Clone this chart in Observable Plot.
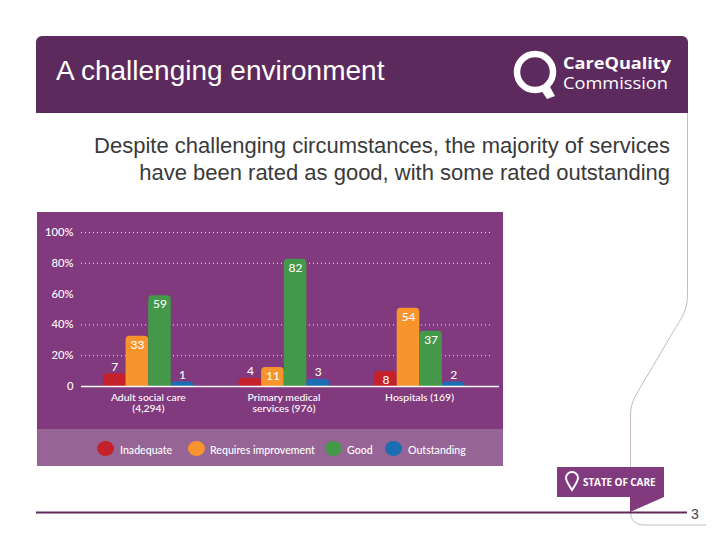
<!DOCTYPE html>
<html><head><meta charset="utf-8">
<script src="https://cdn.jsdelivr.net/npm/d3@7"></script>
<script src="https://cdn.jsdelivr.net/npm/@observablehq/plot@0.6"></script>
<style>
html,body{margin:0;padding:0;background:#fff;overflow:hidden}
#page{position:relative;width:720px;height:540px;overflow:hidden;font-family:"Liberation Sans",Arial,sans-serif}
#page>*{position:absolute}
#hdr{left:36px;top:36px;width:652px;height:77px;background:#5d2a5e;border-radius:6px 6px 0 0}
#title{left:56px;top:54px;color:#fff;font-size:28px;line-height:34px;white-space:nowrap}
#sub{right:50px;top:132px;width:620px;text-align:right;color:#3a3a3a;font-size:22px;line-height:27px;white-space:nowrap}
#panel{left:37px;top:212px;width:466px;height:217px;background:#823a7e}
#legend{left:37px;top:429px;width:466px;height:37px;background:#976496}
#plot{left:37px;top:212px}
.lg{position:absolute;top:0;color:#fff;font:500 10.6px/42px "Lato",sans-serif;white-space:nowrap}
.sw{position:absolute;top:12px;width:17px;height:15px;border-radius:50%}
#soc{left:557px;top:467px;width:107px;height:30px;background:#823a7e}
#soct{left:583px;top:467px;color:#fff;font:700 10px/30px "Open Sans",sans-serif;white-space:nowrap;letter-spacing:-.1px}
#pg{left:691px;top:505px;color:#444;font-size:14px;line-height:18px}
</style></head><body>
<div id="page">
<svg style="left:0;top:0" width="720" height="540">
<path d="M687.5 113V295C687.5 312 680 320 673 332L640 388C634 398 630.5 404 630.5 416V512C630.5 520 635 525 645 525H706" fill="none" stroke="#c9b9c9" stroke-width="1"/>
</svg>
<div id="hdr"></div>
<div id="title">A challenging environment</div>
<svg style="left:510px;top:45px" width="170" height="62">
<circle cx="25" cy="27" r="18" fill="none" stroke="#fff" stroke-width="6.5"/>
<path d="M29 42L37 54L45 51L39 40Z" fill="#fff"/>
<text x="53" y="24" fill="#fff" font-family="Open Sans" font-weight="700" font-size="16" textLength="108" lengthAdjust="spacingAndGlyphs">CareQuality</text>
<text x="53" y="44" fill="#fff" font-family="Open Sans" font-weight="400" font-size="16" textLength="105" lengthAdjust="spacingAndGlyphs">Commission</text>
</svg>
<div id="sub">Despite challenging circumstances, the majority of services<br>have been rated as good, with some rated outstanding</div>
<div id="panel"></div>
<div id="legend"></div>
<div id="plot"></div>
<div id="soc"></div>
<svg style="left:557px;top:467px" width="110" height="46">
<path d="M73 30H107L73 45Z" fill="#823a7e"/>
<path d="M15 23C11 17 9 14 9 11A6 6 0 0 1 21 11C21 14 19 17 15 23Z" fill="none" stroke="#fff" stroke-width="2"/>
</svg>
<div id="soct">STATE OF CARE</div>
<svg style="left:0;top:0;pointer-events:none" width="720" height="540"><path d="M36 512.5H687" stroke="#5d2a5e" stroke-width="2"/></svg>
<div id="pg">3</div>
</div>
<script>
const groups = ["Adult social care\n(4,294)", "Primary medical\nservices (976)", "Hospitals (169)"];
const ratings = ["Inadequate", "Requires improvement", "Good", "Outstanding"];
const colors = ["#c4212b", "#f7952c", "#43984a", "#1b6db4"];
// printed percentages
const adult = [7, 33, 59, 1];
const primary = [4, 11, 82, 3];
const hospitals = [8, 54, 37, 2];
// bar heights as drawn in the picture, on the percentage axis
const adultDrawn = [8.3, 32.6, 59, 3];
const primaryDrawn = [5.4, 12.4, 82.7, 4.5];
const hospitalsDrawn = [9.8, 50.8, 35.8, 3];
const yTicks = [0, 20, 40, 60, 80, 100];
const gridValues = [20, 40, 80, 100];

const printed = [adult, primary, hospitals], drawn = [adultDrawn, primaryDrawn, hospitalsDrawn];
const rows = [], domain = [];
groups.forEach((g, i) => {
  ratings.forEach((r, j) => {
    const key = i + "|" + r;
    domain.push(key);
    rows.push({key, group: g, rating: r, value: printed[i][j], height: drawn[i][j], color: colors[j], first: j === 1});
  });
  if (i < groups.length - 1) domain.push("gap" + i + "a", "gap" + i + "b");
});
const inside = rows.filter(d => d.value >= 8), above = rows.filter(d => d.value < 8);
const font = "Lato,sans-serif";

const chart = Plot.plot({
  width: 466, height: 217,
  marginLeft: 44, marginRight: 4, marginTop: 20, marginBottom: 43,
  style: {background: "transparent", color: "#fff", fontFamily: font, fontSize: "12px", fontWeight: 500},
  x: {domain, range: [66, 427.5], padding: 0, round: false, axis: null},
  y: {domain: [0, 100], label: null},
  marks: [
    Plot.ruleY(gridValues, {stroke: "#fff", strokeWidth: 1, strokeDasharray: "1,3", insetRight: 7, strokeOpacity: 0.85}),
    Plot.barY(rows, {x: "key", y: "height", fill: "color", rx1y1: 4, rx2y1: 4, rx1y2: 0, rx2y2: 0}),
    Plot.ruleY([0], {stroke: "#fff", strokeWidth: 1.5}),
    Plot.axisY({ticks: yTicks, tickSize: 0, tickPadding: 8, tickFormat: d => d === 0 ? "0" : d + "%", label: null, fontSize: 11.2, fill: "#fff"}),
    Plot.text(inside, {x: "key", y: "height", text: d => String(d.value), dy: 9, fill: "#fff", fontSize: 12}),
    Plot.text(above, {x: "key", y: "height", text: d => String(d.value), dy: -7, fill: "#fff", fontSize: 12}),
    Plot.text(rows.filter(d => d.first), {x: "key", y: () => 0, text: "group", dx: 11, dy: 6, lineAnchor: "top", fill: "#fff", fontSize: 10.4, lineHeight: 1.1})
  ]
});
document.getElementById("plot").appendChild(chart);

const swatchLeft = [60, 151, 288, 348], textLeft = [83, 173, 310, 371];
const lg = document.getElementById("legend");
ratings.forEach((r, i) => {
  const s = document.createElement("div"); s.className = "sw";
  s.style.left = swatchLeft[i] + "px"; s.style.background = colors[i]; lg.appendChild(s);
  const t = document.createElement("div"); t.className = "lg";
  t.style.left = textLeft[i] + "px"; t.textContent = r; lg.appendChild(t);
});
</script>
</body></html>
